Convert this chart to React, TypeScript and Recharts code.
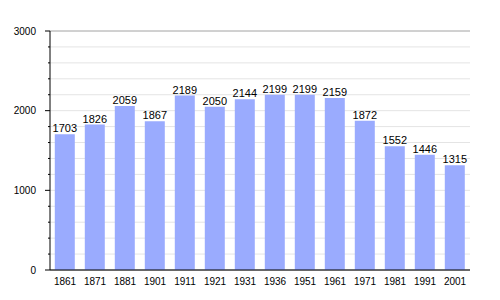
import React from 'react';
import { BarChart, Bar, XAxis, YAxis, CartesianGrid, LabelList } from 'recharts';

const years = ['1861', '1871', '1881', '1901', '1911', '1921', '1931', '1936', '1951', '1961', '1971', '1981', '1991', '2001'];
const population = [1703, 1826, 2059, 1867, 2189, 2050, 2144, 2199, 2199, 2159, 1872, 1552, 1446, 1315];
const yTicks = [0, 200, 400, 600, 800, 1000, 1200, 1400, 1600, 1800, 2000, 2200, 2400, 2600, 2800, 3000];
const majorTicks = [0, 1000, 2000, 3000];

const FONT = '"Liberation Sans", Arial, sans-serif';

const data = years.map((year, i) => ({ year, value: population[i] }));

// left axis: long tick + label on the thousands, short tick otherwise
const YTick = ({ x, y, payload }: any) => {
  const major = payload.value % 1000 === 0;
  return (
    <g>
      <line x1={x - (major ? 5 : 2)} x2={x} y1={y} y2={y} stroke="#000" strokeWidth={1} />
      {major && (
        <text x={x - 14} y={y} dy="0.35em" textAnchor="end" fontSize={10} fontFamily={FONT} fill="#000">
          {payload.value}
        </text>
      )}
    </g>
  );
};

const App: React.FC = () => {
  return (
    <div style={{ position: 'absolute', left: 0, top: 0, background: '#fff' }}>
      <BarChart
        width={500}
        height={300}
        data={data}
        margin={{ top: 31, right: 30, left: 0, bottom: 0 }}
        barCategoryGap="16%"
      >
        <CartesianGrid vertical={false} stroke="#e4e4e4" />
        <CartesianGrid vertical={false} stroke="#b0b0b0" yAxisId="major" />
        <XAxis
          dataKey="year"
          tickLine={false}
          tickMargin={2}
          height={30}
          axisLine={{ stroke: '#000' }}
          tick={{ fontSize: 10, fontFamily: FONT, fill: '#000' }}
          interval={0}
        />
        <YAxis
          width={50}
          domain={[0, 3000]}
          ticks={yTicks}
          interval={0}
          tickLine={false}
          tickSize={0}
          tickMargin={0}
          axisLine={{ stroke: '#000' }}
          tick={<YTick />}
        />
        <YAxis yAxisId="major" hide domain={[0, 3000]} ticks={majorTicks} interval={0} />
        <Bar dataKey="value" fill="#9aabfe" isAnimationActive={false}>
          <LabelList dataKey="value" position="top" offset={2} fontSize={11} fontFamily={FONT} fill="#000" />
        </Bar>
      </BarChart>
    </div>
  );
};

export default App;
